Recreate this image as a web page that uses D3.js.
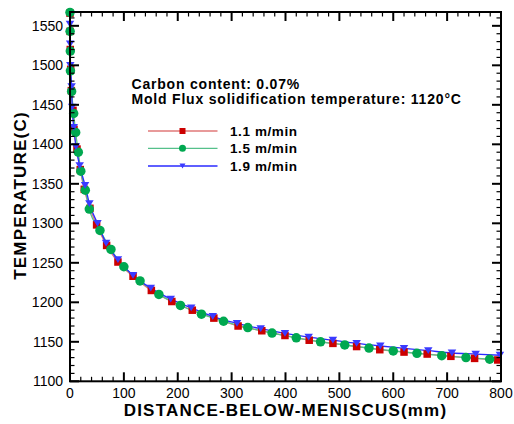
<!DOCTYPE html>
<html><head><meta charset="utf-8">
<script src="https://cdn.jsdelivr.net/npm/d3@7"></script>
<style>body{margin:0;background:#fff}svg{display:block}</style>
</head><body>
<svg id="c" width="514" height="424"></svg>
<script>
// ---- data ----
const seriesNames = ["1.1 m/min", "1.5 m/min", "1.9 m/min"];
const dist11 = [0,0.2,0.5,1.3,2.5,5.5,7.4,13,19,26.5,37,49.4,68,89,117,151,189,227,267,312,356,399,444,488,532,575,620,663,707,751,794];
const temp11 = [1566,1543,1520,1495,1468,1443,1419,1394,1368,1343,1319,1298,1272,1251,1233,1215,1201,1190,1180,1170,1164,1158,1152,1148,1144,1140,1137,1134.5,1131.6,1129,1127];
const dist15 = [0,0.2,0.6,0.8,3,6.8,10.5,15.4,20,28.4,35.8,55.6,76,100,130,165,205,244,285,330,375,420,465,510,555,600,644,690,735,779];
const temp15 = [1567,1543,1518,1493,1467,1439,1415,1390,1366,1342,1318,1291,1267,1245,1227,1210,1196,1185,1176,1168,1161,1155,1150,1146,1142,1138.4,1135.4,1132.4,1130,1128];
const dist19 = [0,0.3,0.6,3,4,7,11,18,28,36,51,67,89,117,150,187,225,265,310,354,399,443,488,532,576,620,665,709,753,798];
const temp19 = [1552,1527,1500,1473,1447,1421.5,1397,1373,1348,1325,1300,1275,1254,1234,1218,1204,1193,1182,1173.4,1166.6,1160.7,1156,1152,1148,1144.7,1141.8,1138.8,1135.8,1134.5,1133];
const xTicks = [0,100,200,300,400,500,600,700,800];
const yTicks = [1100,1150,1200,1250,1300,1350,1400,1450,1500,1550];
const note1 = "Carbon content: 0.07%";
const note2 = "Mold Flux solidification temperature: 1120°C";
const xTitle = "DISTANCE-BELOW-MENISCUS(mm)";
const yTitle = "TEMPERATURE(C)";

// ---- layout ----
const L = 70, R = 501, T = 12, B = 381.3;
const svg = d3.select("#c");
const x = d3.scaleLinear().domain([0, 800]).range([L, R]);
const y = d3.scaleLinear().domain([1100, 1567.5]).range([B, T]);
const font = "Arial, 'Liberation Sans', sans-serif";

const series = [
  {name: seriesNames[0], xs: dist11, ys: temp11, line: "#e07878", fill: "#cc0000", shape: "square"},
  {name: seriesNames[1], xs: dist15, ys: temp15, line: "#55c08a", fill: "#00a850", shape: "circle"},
  {name: seriesNames[2], xs: dist19, ys: temp19, line: "#2a2aff", fill: "#3a3aff", shape: "tri"}
];

function marker(g, shape, cx, cy, s, fill) {
  if (shape === "square") {
    g.append("rect").attr("x", cx - s/2).attr("y", cy - s/2).attr("width", s).attr("height", s).attr("fill", fill);
  } else if (shape === "circle") {
    g.append("circle").attr("cx", cx).attr("cy", cy).attr("r", s/2).attr("fill", fill);
  } else {
    const h = s * 0.8;
    g.append("path").attr("d", `M${cx - s/2},${cy - h/2}L${cx + s/2},${cy - h/2}L${cx},${cy + h/2}Z`).attr("fill", fill);
  }
}

const pg = svg.append("g");
series.forEach(s => {
  const pts = s.xs.map((d, i) => [d, s.ys[i]]);
  pg.append("path").datum(pts)
    .attr("d", d3.line().x(d => x(d[0])).y(d => y(d[1])).curve(d3.curveMonotoneX))
    .attr("fill", "none").attr("stroke", s.line).attr("stroke-width", 1.3);
});
series.forEach(s => {
  const g = pg.append("g");
  const size = s.shape === "square" ? 7.5 : (s.shape === "circle" ? 9.5 : 8.5);
  s.xs.forEach((d, i) => marker(g, s.shape, x(d), y(s.ys[i]), size, s.fill));
});

// ---- axes ----
const xMinor = d3.range(0, 801, 20).filter(v => v % 100 !== 0);
const yMinor = d3.range(1100, 1568, 10).filter(v => v % 50 !== 0);
const ax = svg.append("g").attr("stroke", "#000");
ax.append("rect").attr("x", L).attr("y", T).attr("width", R - L).attr("height", B - T)
  .attr("fill", "none").attr("stroke-width", 2);
const maj = 9, mn = 4.5;
xTicks.forEach(v => {
  ax.append("line").attr("x1", x(v)).attr("x2", x(v)).attr("y1", B).attr("y2", B - maj).attr("stroke-width", 2);
  ax.append("line").attr("x1", x(v)).attr("x2", x(v)).attr("y1", T).attr("y2", T + maj).attr("stroke-width", 2);
});
xMinor.forEach(v => {
  ax.append("line").attr("x1", x(v)).attr("x2", x(v)).attr("y1", B).attr("y2", B - mn).attr("stroke-width", 1.2);
  ax.append("line").attr("x1", x(v)).attr("x2", x(v)).attr("y1", T).attr("y2", T + mn).attr("stroke-width", 1.2);
});
yTicks.forEach(v => {
  ax.append("line").attr("y1", y(v)).attr("y2", y(v)).attr("x1", L).attr("x2", L + maj).attr("stroke-width", 2);
  ax.append("line").attr("y1", y(v)).attr("y2", y(v)).attr("x1", R).attr("x2", R - maj).attr("stroke-width", 2);
});
yMinor.forEach(v => {
  ax.append("line").attr("y1", y(v)).attr("y2", y(v)).attr("x1", L).attr("x2", L + mn).attr("stroke-width", 1.2);
  ax.append("line").attr("y1", y(v)).attr("y2", y(v)).attr("x1", R).attr("x2", R - mn).attr("stroke-width", 1.2);
});

// tick labels
const tl = svg.append("g").attr("font-family", font).attr("font-size", 14).attr("fill", "#000");
xTicks.forEach(v => tl.append("text").attr("x", x(v)).attr("y", B + 17).attr("text-anchor", "middle").text(v));
yTicks.forEach(v => tl.append("text").attr("x", L - 7).attr("y", y(v) + 5).attr("text-anchor", "end").text(v));

// titles
svg.append("text").attr("x", 285.5).attr("y", 416).attr("text-anchor", "middle")
  .attr("font-family", font).attr("font-weight", "bold").attr("font-size", 17)
  .attr("letter-spacing", "1.2px").text(xTitle);
svg.append("text").attr("transform", "translate(26,195.5) rotate(-90)").attr("text-anchor", "middle")
  .attr("font-family", font).attr("font-weight", "bold").attr("font-size", 17)
  .attr("letter-spacing", "1.2px").text(yTitle);

// annotation
const an = svg.append("g").attr("font-family", font).attr("font-weight", "bold").attr("font-size", 14);
an.append("text").attr("x", 131.5).attr("y", 89.3).attr("letter-spacing", "0.8px").text(note1);
an.append("text").attr("x", 131.5).attr("y", 104.3).attr("letter-spacing", "0.8px").text(note2);

// legend
const ly = [131, 148.3, 166];
series.forEach((s, i) => {
  const g = svg.append("g");
  g.append("line").attr("x1", 148).attr("x2", 217.5).attr("y1", ly[i]).attr("y2", ly[i])
    .attr("stroke", s.line).attr("stroke-width", 1.3);
  const size = s.shape === "square" ? 6 : (s.shape === "circle" ? 7 : 6);
  marker(g, s.shape, 182.5, ly[i], size, s.fill);
  g.append("text").attr("x", 230).attr("y", ly[i] + 5).attr("font-family", font).attr("font-weight", "bold")
    .attr("font-size", 13.5).attr("letter-spacing", "0.6px").text(s.name);
});
</script>
</body></html>
